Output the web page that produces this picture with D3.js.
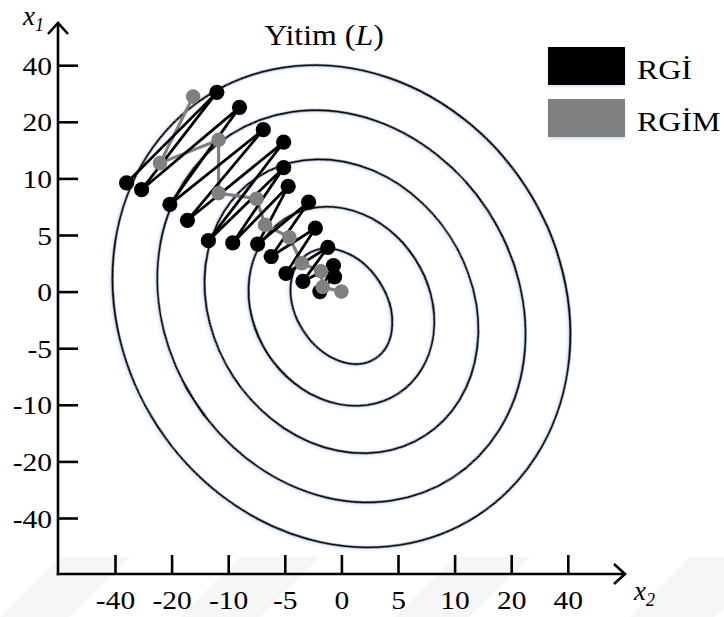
<!DOCTYPE html>
<html>
<head>
<meta charset="utf-8">
<script src="https://cdn.jsdelivr.net/npm/d3@7"></script>
<style>
  html, body { margin: 0; padding: 0; background: #fff; }
  svg { display: block; font-family: "Liberation Serif", "Times New Roman", serif; }
</style>
</head>
<body>
<svg id="chart" width="724" height="617"></svg>
<script>
// Axis tick labels (both axes use the same uneven set of values, equally spaced)
const tickValues = [-40, -20, -10, -5, 0, 5, 10, 20, 40];

// Gradient descent path (RGİ): [x2, x1]
const rgiPath = [
  [-35.9, 9.6], [-12.0, 30.4], [-30.6, 9.0], [-9.0, 25.1],
  [-20.6, 7.7], [-6.9, 18.6], [-17.2, 6.3], [-5.1, 16.4],
  [-13.5, 4.5], [-5.1, 11.9], [-9.6, 4.3], [-4.7, 9.3],
  [-7.4, 4.2], [-2.9, 7.9], [-6.2, 3.1], [-2.3, 5.6],
  [-4.9, 1.6], [-1.2, 3.9], [-3.4, 0.9], [-0.7, 2.3],
  [-1.9, 0.0], [-0.6, 1.3]
];

// Momentum path (RGİM): [x2, x1]
const rgimPath = [
  [-16.2, 28.9], [-24.1, 12.7], [-11.7, 16.8], [-11.7, 8.7],
  [-7.5, 8.2], [-6.75, 5.9], [-4.6, 4.8], [-3.5, 2.5],
  [-1.8, 1.8], [-1.65, 0.4], [0, 0]
];

// Loss contours: semi-axes in tick steps, around a common centre [x2, x1]
const contourCentre = [0, -1.3];
const contourMajor = [4.41, 3.61, 2.72, 1.84, 1.1];
const contourMinor = [3.88, 3.09, 2.28, 1.55, 0.8];
const contourAngle = 57;

const legendLabels = ["RGİ", "RGİM"];
const legendColors = ["#000000", "#808080"];

const svg = d3.select("#chart");

const step = 56.6;
const x0 = 115, yBottom = 518;
const x = d3.scaleLinear()
  .domain(tickValues)
  .range(tickValues.map((d, i) => x0 + i * step));
const y = d3.scaleLinear()
  .domain(tickValues)
  .range(tickValues.map((d, i) => yBottom - i * step));

const axisX = 58, axisY = 574;

// widen glyphs of a text selection by factor k
function stretch(sel, k) {
  sel.each(function () {
    const w = this.getComputedTextLength();
    d3.select(this).attr("textLength", w * k).attr("lengthAdjust", "spacingAndGlyphs");
  });
}

// faint diagonal bands behind the axis labels
const bands = [[0, 70], [180, 260], [395, 470], [630, 715]];
svg.append("g").selectAll("path").data(bands).join("path")
  .attr("d", d => `M${d[0]},617L${d[0] + 60},557L${d[1] + 60},557L${d[1]},617Z`)
  .attr("fill", "#000").attr("opacity", 0.035);

const defs = svg.append("defs");
const glow = defs.append("filter").attr("id", "glow")
  .attr("x", "-10%").attr("y", "-10%").attr("width", "120%").attr("height", "130%");
glow.append("feDropShadow").attr("dx", 0).attr("dy", 2).attr("stdDeviation", 1.6)
  .attr("flood-color", "#9ec0ea").attr("flood-opacity", 0.45);

// contours
const cx = x(contourCentre[0]), cy = y(contourCentre[1]);
svg.append("g").selectAll("ellipse")
  .data(contourMajor)
  .join("ellipse")
  .attr("cx", cx).attr("cy", cy)
  .attr("rx", d => d * step)
  .attr("ry", (d, i) => contourMinor[i] * step)
  .attr("transform", `rotate(${contourAngle} ${cx} ${cy})`)
  .attr("fill", "none")
  .attr("stroke", "#000")
  .attr("stroke-width", 2.2)
  .attr("filter", "url(#glow)");

const line = d3.line().x(d => x(d[0])).y(d => y(d[1]));

svg.append("path").datum(rgimPath)
  .attr("d", line).attr("fill", "none")
  .attr("stroke", "#808080").attr("stroke-width", 3.2).attr("stroke-linejoin", "round");

svg.append("path").datum(rgiPath)
  .attr("d", line).attr("fill", "none")
  .attr("stroke", "#000").attr("stroke-width", 2.8).attr("stroke-linejoin", "round");

svg.append("g").selectAll("circle").data(rgiPath).join("circle")
  .attr("cx", d => x(d[0])).attr("cy", d => y(d[1])).attr("r", 7.6).attr("fill", "#000");

svg.append("g").selectAll("circle").data(rgimPath).join("circle")
  .attr("cx", d => x(d[0])).attr("cy", d => y(d[1])).attr("r", 7.3).attr("fill", "#808080");

// axes
const fmt = d => String(d);
const gy = svg.append("g").attr("transform", `translate(${axisX},0)`)
  .call(d3.axisLeft(y).tickValues(tickValues).tickFormat(fmt)
    .tickSizeInner(-20).tickSizeOuter(0).tickPadding(6));
const gx = svg.append("g").attr("transform", `translate(0,${axisY})`)
  .call(d3.axisBottom(x).tickValues(tickValues).tickFormat(fmt)
    .tickSizeInner(-19).tickSizeOuter(0).tickPadding(18));
[gx, gy].forEach(g => {
  g.select(".domain").remove();
  g.selectAll(".tick line").attr("stroke", "#000").attr("stroke-width", 2.6);
  g.selectAll(".tick text").attr("fill", "#000").attr("font-size", 25)
    .attr("font-family", "Liberation Serif, serif");
});
gy.selectAll(".tick text").attr("dy", "0.36em");
gx.selectAll(".tick text").attr("dy", "0.68em");
stretch(gx.selectAll(".tick text"), 1.18);
stretch(gy.selectAll(".tick text"), 1.18);

// axis lines with open arrowheads
const axisG = svg.append("g").attr("stroke", "#000").attr("fill", "none")
  .attr("stroke-width", 2.6);
axisG.append("path").attr("d", `M${axisX},${axisY + 1.3}V24`);
axisG.append("path").attr("d", `M${axisX - 1.3},${axisY}H624`);
axisG.append("path").attr("d", `M${axisX - 10},34L${axisX},23L${axisX + 10},34`);
axisG.append("path").attr("d", `M614,${axisY - 10}L625,${axisY}L614,${axisY + 10}`);

// axis names
const xl1 = svg.append("text").attr("x", 23).attr("y", 25)
  .attr("font-size", 27).attr("font-style", "italic");
xl1.append("tspan").text("x");
xl1.append("tspan").attr("font-size", 18).attr("dy", 6).text("1");

const xl2 = svg.append("text").attr("x", 634).attr("y", 600)
  .attr("font-size", 27).attr("font-style", "italic");
xl2.append("tspan").text("x");
xl2.append("tspan").attr("font-size", 18).attr("dy", 6).text("2");

// title
const title = svg.append("text").attr("x", 324).attr("y", 45)
  .attr("text-anchor", "middle").attr("font-size", 29);
title.append("tspan").text("Yitim (");
title.append("tspan").attr("font-style", "italic").text("L");
title.append("tspan").text(")");
stretch(title, 1.1);

// legend
const leg = svg.append("g");
leg.selectAll("rect").data(legendLabels).join("rect")
  .attr("x", 548).attr("y", (d, i) => 47 + i * 52)
  .attr("width", 77).attr("height", 38)
  .attr("fill", (d, i) => legendColors[i])
  .attr("filter", "url(#glow)");
const legText = leg.selectAll("text").data(legendLabels).join("text")
  .attr("x", 637).attr("y", (d, i) => 79 + i * 52)
  .attr("font-size", 28).text(d => d);
stretch(legText, 1.14);
</script>
</body>
</html>
